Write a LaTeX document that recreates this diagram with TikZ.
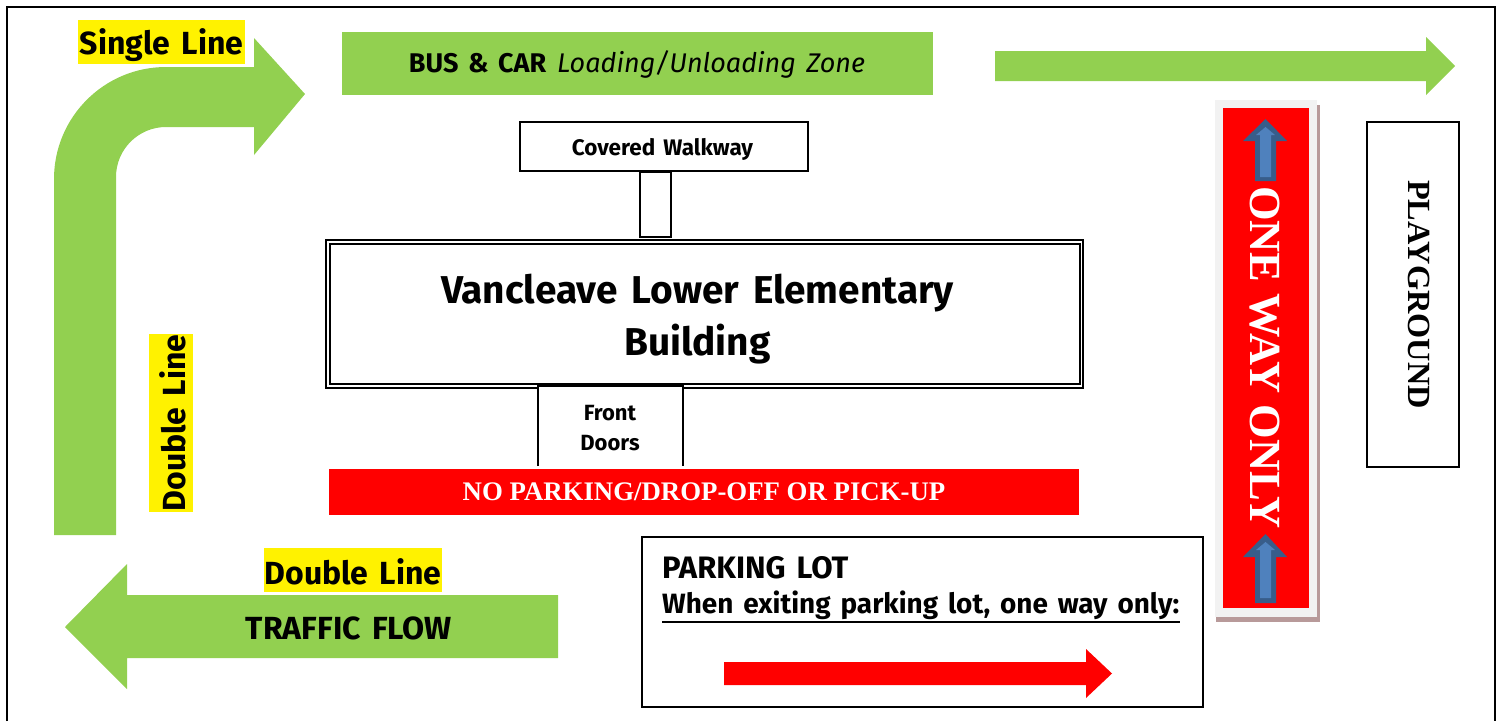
\documentclass[tikz,border=0pt]{standalone}
\usepackage{fontspec}
\setmainfont{Fira Sans}[BoldFont={Fira Sans Bold},WordSpace=1.5]
\newfontfamily\serifb{Liberation Serif}[BoldFont={Liberation Serif Bold}]
\definecolor{grn}{HTML}{92D050}
\definecolor{shad}{HTML}{B89A9A}
\definecolor{pale}{HTML}{F2F2F2}
\definecolor{bluef}{HTML}{4F81BD}
\definecolor{blued}{HTML}{385D8A}
\tikzset{
  greenshape/.style={fill=grn,draw=none},
  box/.style={draw=black,line width=1.6pt,fill=white},
  hilite/.style={fill=yellow,inner sep=0pt},
  hilitetext/.style={inner sep=0pt,font=\bfseries\fontsize{32}{34}\selectfont},
  label/.style={font=\bfseries,inner sep=0pt,align=center},
}
\begin{document}
\begin{tikzpicture}[x=1pt,y=-1pt]
\useasboundingbox (0,0) rectangle (1501,721);
\fill[white] (0,0) rectangle (1501,721);
% frame
\draw[line width=2pt,black] (7,721) -- (7,7) -- (1495,7) -- (1495,721);
% bent arrow
\fill[greenshape] (54,535) -- (54,179) arc[start angle=180,end angle=270,radius=112] -- (254,67) -- (254,38) -- (305,94) -- (254,155) -- (254,127) -- (166,127) arc[start angle=270,end angle=180,radius=50] -- (116,535) -- cycle;
% top zone and arrow
\fill[greenshape] (342,32) rectangle (933,95);
\fill[greenshape] (995,51) -- (1426,51) -- (1426,37) -- (1455,66) -- (1426,95) -- (1426,81) -- (995,81) -- cycle;
% traffic arrow
\fill[greenshape] (558,595) -- (127,595) -- (127,564) -- (65,627) -- (127,689) -- (127,658) -- (558,658) -- cycle;
% yellow labels
\node[hilite,minimum width=167pt,minimum height=44pt] (singlebg) at (161.5,42) {};
\node[hilitetext] (single) at (161.5,45.5) {Single Line};
\node[hilite,minimum width=44pt,minimum height=178pt] (dbl1bg) at (171,423) {};
\node[hilitetext,rotate=90] (dbl1) at (172.5,423) {Double Line};
\node[hilite,minimum width=178pt,minimum height=44pt] (dbl2bg) at (353,570) {};
\node[hilitetext] (dbl2) at (353,571.5) {Double Line};
% zone text
\node[label,font=\fontsize{27}{30}\selectfont] (zone) at (637,64) {\textbf{BUS \& CAR} \textit{Loading/Unloading Zone}};
\node[label,font=\bfseries\fontsize{32}{34}\selectfont] (flow) at (349,628) {TRAFFIC FLOW};
% walkway
\node[box,minimum width=288pt,minimum height=49pt,inner sep=0pt] (walk) at (664,146.5) {};
\node[label,font=\bfseries\fontsize{22.5}{25}\selectfont] (walkt) at (662.5,149.5) {Covered Walkway};
\node[box,minimum width=31pt,minimum height=65pt,inner sep=0pt] (stem) at (655.5,204.5) {};
% building
\draw[line width=1.4pt] (326,240) rectangle (1083,388);
\draw[line width=1.4pt] (330,244) rectangle (1080,384);
\node[label,font=\bfseries\fontsize{38.8}{52}\selectfont] (bldg) at (697.5,319) {Vancleave Lower Elementary\\Building};
% front doors
\draw[line width=1.6pt,fill=white] (538,466) -- (538,386) -- (683,386) -- (683,466);
\node[label,font=\bfseries\fontsize{22}{30}\selectfont] (doors) at (610,428) {Front\\Doors};
% no parking bar
\node[fill=red,minimum width=750pt,minimum height=46pt,inner sep=0pt,text=white,font=\serifb\bfseries\fontsize{26.8}{29}\selectfont] (nop) at (704,492) {NO PARKING/DROP-OFF OR PICK-UP};
% parking lot
\node[box,minimum width=561pt,minimum height=170pt,inner sep=0pt] (lot) at (922.5,622) {};
\node[label,anchor=west,font=\bfseries\fontsize{31}{33}\selectfont] (lot1) at (662,568) {PARKING LOT};
\node[label,anchor=west,font=\bfseries\fontsize{27.9}{30}\selectfont] (lot2) at (662,605) {When exiting parking lot, one way only:};
\draw[line width=2.2pt] ([yshift=-2.5pt]lot2.south west) -- ([yshift=-2.5pt]lot2.south east);
\fill[red] (724,662) -- (1086,662) -- (1086,649) -- (1112,673.5) -- (1086,698) -- (1086,685) -- (724,685) -- cycle;
% one way
\fill[shad] (1216,105) rectangle (1320,622);
\fill[pale] (1214.5,100) rectangle (1317,617);
\fill[red] (1222.5,108) rectangle (1309,608);
\fill[blued] (1265.5,119) -- (1287,141) -- (1276,141) -- (1276,181) -- (1255,181) -- (1255,141) -- (1243,141) -- cycle;
\fill[bluef] (1265.5,127) -- (1275,135) -- (1271,135) -- (1271,177) -- (1260,177) -- (1260,135) -- (1256,135) -- cycle;
\fill[blued] (1265.5,534) -- (1287,557) -- (1276,557) -- (1276,603) -- (1255,603) -- (1255,557) -- (1243,557) -- cycle;
\fill[bluef] (1265.5,542) -- (1275,550) -- (1271,550) -- (1271,598) -- (1260,598) -- (1260,550) -- (1256,550) -- cycle;
\node[text=white,inner sep=0pt,rotate=-90,font=\serifb\bfseries\fontsize{44.5}{48}\selectfont] (oneway) at (1265,357.5) {ONE WAY ONLY};
% playground
\node[box,minimum width=92pt,minimum height=345pt,inner sep=0pt] (pg) at (1413,294.5) {};
\node[inner sep=0pt,rotate=-90,font=\serifb\bfseries\fontsize{32.3}{36}\selectfont] (pgt) at (1419,294.5) {PLAYGROUND};
\end{tikzpicture}
\end{document}
